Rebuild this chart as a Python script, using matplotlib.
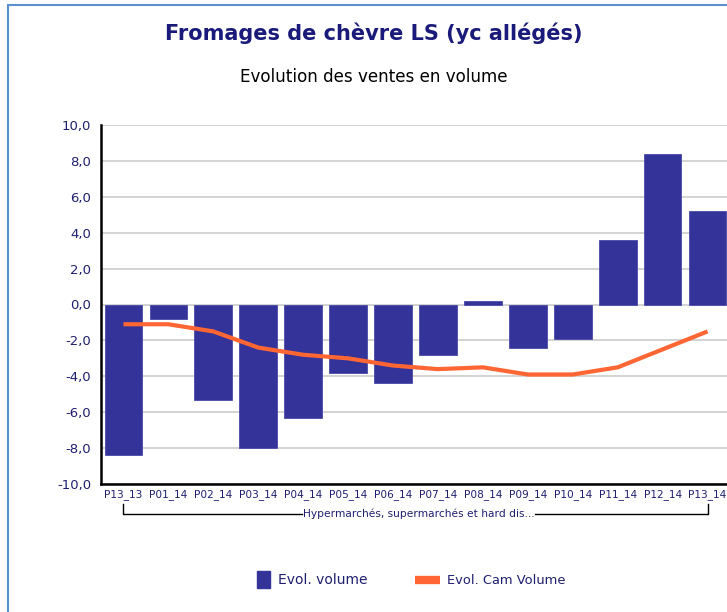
import matplotlib
matplotlib.use("Agg")
import matplotlib.pyplot as plt
from matplotlib.patches import Rectangle
from matplotlib.lines import Line2D
from matplotlib.ticker import FuncFormatter

categories = ["P13_13", "P01_14", "P02_14", "P03_14", "P04_14", "P05_14", "P06_14",
              "P07_14", "P08_14", "P09_14", "P10_14", "P11_14", "P12_14", "P13_14"]
evol_volume = [-8.4, -0.8, -5.3, -8.0, -6.3, -3.8, -4.4, -2.8, 0.2, -2.4, -1.9, 3.6, 8.4, 5.2]
evol_cam = [-1.1, -1.1, -1.5, -2.4, -2.8, -3.0, -3.4, -3.6, -3.5, -3.9, -3.9, -3.5, -2.5, -1.5]
yticks = [-10, -8, -6, -4, -2, 0, 2, 4, 6, 8, 10]
series_names = ["Evol. volume", "Evol. Cam Volume"]
group_label = "Hypermarchés, supermarchés et hard dis..."

BAR = "#333399"
LINE = "#FF6633"
NAVY = "#1F1F70"

plt.rcParams['font.family'] = ['DejaVu Sans']

W, H = 727, 612
fig = plt.figure(figsize=(W / 100, H / 100), dpi=100)

def fx(px):
    return px / W

def fy(py):
    return 1 - py / H

# outer frame
fig.patches.append(Rectangle((fx(8), -0.1), 1.2, fy(5) + 0.1, transform=fig.transFigure,
                             fill=False, edgecolor="#5b8fd0", linewidth=1.5))

ax = fig.add_axes([fx(101), fy(484), (730 - 101) / W, (484 - 125) / H])
x = list(range(len(categories)))
ax.bar(x, evol_volume, width=0.84, color=BAR, edgecolor="#4a4aa8", linewidth=0.6, zorder=3)
ax.plot(x, evol_cam, color=LINE, linewidth=3, solid_joinstyle="round", solid_capstyle="butt", zorder=4)

ax.set_xlim(-0.5, len(categories) - 0.5)
ax.set_ylim(-10, 10)
ax.set_yticks(yticks)
ax.yaxis.set_major_formatter(FuncFormatter(lambda v, p: f"{v:.1f}".replace(".", ",")))
ax.set_xticks(x)
ax.set_xticklabels(categories)
ax.tick_params(axis="both", length=0, colors=NAVY)
ax.tick_params(axis="y", labelsize=9.5, pad=7)
ax.tick_params(axis="x", labelsize=7.6, pad=4)
ax.grid(axis="y", color="#cccccc", linewidth=1.2, zorder=0)
ax.set_axisbelow(True)
for s in ["top", "right"]:
    ax.spines[s].set_visible(False)
ax.spines["left"].set_linewidth(1.8)
ax.spines["bottom"].set_linewidth(1.8)

# bracket under category labels
tr = ax.get_xaxis_transform()
y_top = (484 - 504) / (484 - 125)
y_bot = (484 - 514) / (484 - 125)
ax.plot([0, 0, 3.98], [y_top, y_bot, y_bot], transform=tr, color="black", lw=1, clip_on=False)
ax.plot([9.15, 13, 13], [y_bot, y_bot, y_top], transform=tr, color="black", lw=1, clip_on=False)
ax.text(6.57, y_bot, group_label, transform=tr,
        ha="center", va="center", fontsize=7.7, color=NAVY, clip_on=False)

fig.text(fx(374), fy(33), "Fromages de chèvre LS (yc allégés)", ha="center", va="center",
         fontsize=15, fontweight="bold", color="#1a1a7a")
fig.text(fx(374), fy(77), "Evolution des ventes en volume", ha="center", va="center",
         fontsize=12.1, color="black")

# legend (manual)
fig.patches.append(Rectangle((fx(257), fy(588)), 13 / W, 17 / H, transform=fig.transFigure,
                             facecolor=BAR, edgecolor=BAR))
fig.text(fx(278), fy(580), series_names[0], ha="left", va="center", fontsize=10, color=NAVY)
fig.lines.append(Line2D([fx(415), fx(440)], [fy(580), fy(580)], transform=fig.transFigure,
                        color=LINE, lw=6, solid_capstyle="butt"))
fig.text(fx(447), fy(580), series_names[1], ha="left", va="center", fontsize=9.4, color=NAVY)

fig.savefig("out.png", dpi=100)
